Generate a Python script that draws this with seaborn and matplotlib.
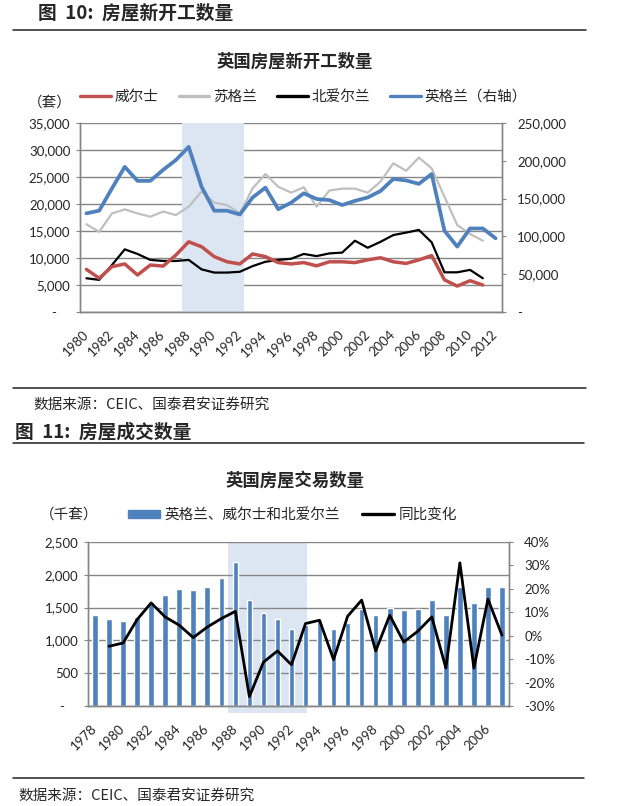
import numpy as np
import pandas as pd
import seaborn as sns
import matplotlib.pyplot as plt
from matplotlib.lines import Line2D
from matplotlib.patches import Patch
from matplotlib.ticker import FuncFormatter, MultipleLocator

sns.set_style("white")
plt.rcParams['font.family'] = ['Lato', 'Noto Sans CJK SC', 'DejaVu Sans']
plt.rcParams['axes.unicode_minus'] = False

nan = np.nan

# 图10: 英国房屋新开工数量 (套)
start_years = list(range(1980, 2013))
wales = [7900, 6250, 8400, 8900, 6850, 8700, 8500, 10550, 13000, 12100,
         10250, 9300, 8900, 10750, 10250, 9150, 8900, 9150, 8550, 9300,
         9300, 9150, 9650, 10050, 9300, 9000, 9650, 10450, 5950, 4800,
         5800, 5000, nan]
scotland = [16250, 14850, 18250, 19000, 18250, 17650, 18600, 17950, 19500, 22300,
            20250, 19800, 18300, 22900, 25550, 23200, 22100, 23100, 19500, 22500,
            22850, 22850, 22100, 24150, 27550, 26150, 28600, 26600, 21350, 16100,
            14450, 13200, nan]
n_ireland = [6250, 5950, 8700, 11600, 10750, 9650, 9450, 9450, 9650, 7900,
             7300, 7300, 7450, 8500, 9300, 9650, 9850, 10750, 10350, 10850,
             11000, 13200, 11900, 13000, 14250, 14700, 15200, 12900, 7350, 7350,
             7800, 6250, nan]
england = [130500, 134000, 163500, 192000, 173500, 173500, 188000, 201000, 218500, 166000,
           134000, 134000, 129000, 151500, 164500, 136000, 144500, 157000, 149500, 148000,
           141500, 147000, 151500, 160000, 176000, 174000, 169500, 182500, 107500, 86500,
           110500, 110500, 97500]
shade_top = (1988, 1992)

# 图11: 英国房屋交易数量 (千套) 与同比
deal_years = list(range(1978, 2008))
deals = [1383, 1327, 1291, 1362, 1550, 1688, 1780, 1764, 1821, 1954,
         2188, 1612, 1423, 1327, 1173, 1240, 1316, 1173, 1270, 1479,
         1383, 1495, 1460, 1479, 1612, 1383, 1821, 1576, 1821, 1821]
deals_yoy = [nan, -4.5, -3.1, 6.9, 14.0, 8.0, 4.5, -0.8, 3.7, 7.3,
             10.4, -26.0, -11.3, -6.5, -12.4, 5.2, 6.6, -10.2, 8.3, 15.2,
             -6.5, 8.7, -2.7, 1.9, 8.0, -13.8, 31.1, -13.8, 15.6, 0.2]
shade_bot = (1988, 1993)

CN = ['Noto Sans CJK SC', 'DejaVu Sans']
RED, GREY, BLUE = '#C0504D', '#BFBFBF', '#4F81BD'
SHADE, AXIS = '#DCE6F2', '#868686'

W, H = 625, 806
fig = plt.figure(figsize=(W / 100, H / 100), dpi=100)


def fx(px):
    return px / W


def fy(py):
    return 1 - py / H


def box(left, top, right, bottom):
    return [fx(left), fy(bottom), fx(right) - fx(left), fy(top) - fy(bottom)]


def dash_fmt(v, pos):
    return '-    ' if v == 0 else f'{v:,.0f}'


def style(ax, ax2, years):
    n = len(years)
    for a in (ax, ax2):
        a.spines['top'].set_visible(False)
        for s in ('left', 'right', 'bottom'):
            a.spines[s].set_color(AXIS)
            a.spines[s].set_linewidth(1)
        a.set_xlabel('')
        a.set_ylabel('')
    ax.grid(axis='y', color=AXIS, linewidth=1)
    ax.set_axisbelow(True)
    ax.set_xlim(-0.5, n - 0.5)
    ax.set_xticks(range(0, n, 2))
    ax.set_xticklabels([str(y) for y in years[::2]], rotation=45, ha='right',
                       rotation_mode='anchor', va='center', fontsize=9.5)
    ax.set_xticks(np.arange(-0.5, n), minor=True)
    ax.tick_params(axis='x', which='major', length=0, pad=15)
    ax.tick_params(axis='x', which='minor', length=4, color=AXIS, direction='out')
    ax.tick_params(axis='y', length=3, color=AXIS, pad=4, labelsize=9.5, direction='out')
    ax2.tick_params(axis='y', length=3, color=AXIS, pad=8, labelsize=9.5, direction='out')


# ---------- 图10 ----------
df_top = pd.DataFrame({'pos': np.arange(len(start_years)), 'wales': wales,
                       'scotland': scotland, 'ni': n_ireland, 'england': england})
ax = fig.add_axes(box(80, 123, 502, 312))
ax2 = ax.twinx()
i0, i1 = start_years.index(shade_top[0]), start_years.index(shade_top[1])
ax.axvspan(i0 - 0.5, i1 + 0.3, color=SHADE, lw=0, zorder=1)
sns.lineplot(data=df_top, x='pos', y='scotland', ax=ax, color=GREY, linewidth=1.6, zorder=3)
sns.lineplot(data=df_top, x='pos', y='ni', ax=ax, color='black', linewidth=1.6, zorder=3)
sns.lineplot(data=df_top, x='pos', y='wales', ax=ax, color=RED, linewidth=2.5, zorder=3)
sns.lineplot(data=df_top, x='pos', y='england', ax=ax2, color=BLUE, linewidth=2.7)
ax.set_ylim(0, 35000)
ax.yaxis.set_major_locator(MultipleLocator(5000))
ax.yaxis.set_major_formatter(FuncFormatter(dash_fmt))
ax2.set_ylim(0, 250000)
ax2.yaxis.set_major_locator(MultipleLocator(50000))
ax2.yaxis.set_major_formatter(FuncFormatter(lambda v, p: '-' if v == 0 else f'{v:,.0f}'))
style(ax, ax2, start_years)

fig.text(fx(38), fy(13), '图  10:  房屋新开工数量', fontsize=13.5, fontweight='bold',
         family=CN, va='center')
fig.text(fx(295), fy(62), '英国房屋新开工数量', fontsize=12.5, fontweight='bold',
         family=CN, ha='center', va='center')
fig.text(fx(28), fy(103), '（套）', fontsize=10.5, family=CN, va='center')
h1 = [Line2D([], [], color=c, lw=2.4) for c in (RED, GREY, 'black', BLUE)]
fig.legend(h1, ['威尔士', '苏格兰', '北爱尔兰', '英格兰（右轴）'], loc='center left',
           bbox_to_anchor=(fx(80), fy(97)), ncol=4, frameon=False,
           prop={'family': CN, 'size': 10.5}, handlelength=2.1, handletextpad=0.25,
           columnspacing=1.4, borderaxespad=0, borderpad=0)
fig.text(fx(33), fy(405), '数据来源：CEIC、国泰君安证券研究', fontsize=10.5, family=CN, va='center')

# ---------- 图11 ----------
df_bot = pd.DataFrame({'year': deal_years, 'pos': np.arange(len(deal_years)),
                       'deals': deals, 'yoy': np.array(deals_yoy) / 100})
bx = fig.add_axes(box(88, 542, 509, 706))
j0, j1 = deal_years.index(shade_bot[0]), deal_years.index(shade_bot[1])
bx.axvspan(j0 - 0.5, j1 + 0.1, ymin=-0.04, color=SHADE, lw=0, zorder=0.2, clip_on=False)
sns.barplot(data=df_bot, x='pos', y='deals', ax=bx, color=BLUE, saturation=1,
            width=0.4, zorder=2)
bx2 = bx.twinx()
sns.lineplot(data=df_bot, x='pos', y='yoy', ax=bx2, color='black', linewidth=2)
bx.set_ylim(0, 2500)
bx.yaxis.set_major_locator(MultipleLocator(500))
bx.yaxis.set_major_formatter(FuncFormatter(dash_fmt))
bx2.set_ylim(-0.3, 0.4)
bx2.yaxis.set_major_locator(MultipleLocator(0.1))
bx2.yaxis.set_major_formatter(FuncFormatter(lambda v, p: f'{v:.0%}'))
style(bx, bx2, deal_years)

fig.text(fx(15), fy(432), '图  11:  房屋成交数量', fontsize=13.5, fontweight='bold',
         family=CN, va='center')
fig.text(fx(295), fy(481), '英国房屋交易数量', fontsize=12.5, fontweight='bold',
         family=CN, ha='center', va='center')
fig.text(fx(40), fy(515), '（千套）', fontsize=10.5, family=CN, va='center')
h2 = [Patch(color=BLUE), Line2D([], [], color='black', lw=2.4)]
fig.legend(h2, ['英格兰、威尔士和北爱尔兰', '同比变化'], loc='center left',
           bbox_to_anchor=(fx(128), fy(515)), ncol=2, frameon=False,
           prop={'family': CN, 'size': 10.5}, handlelength=2.2, handleheight=0.5,
           handletextpad=0.3, columnspacing=1.5, borderaxespad=0, borderpad=0)
fig.text(fx(18), fy(796), '数据来源：CEIC、国泰君安证券研究', fontsize=10.5, family=CN, va='center')

for y, x1 in ((30, 586), (388, 586), (443, 584), (778, 584)):
    fig.add_artist(Line2D([fx(13), fx(x1)], [fy(y), fy(y)], color='#222222', lw=1.1))

fig.savefig('out.png', dpi=100)
plt.close(fig)
